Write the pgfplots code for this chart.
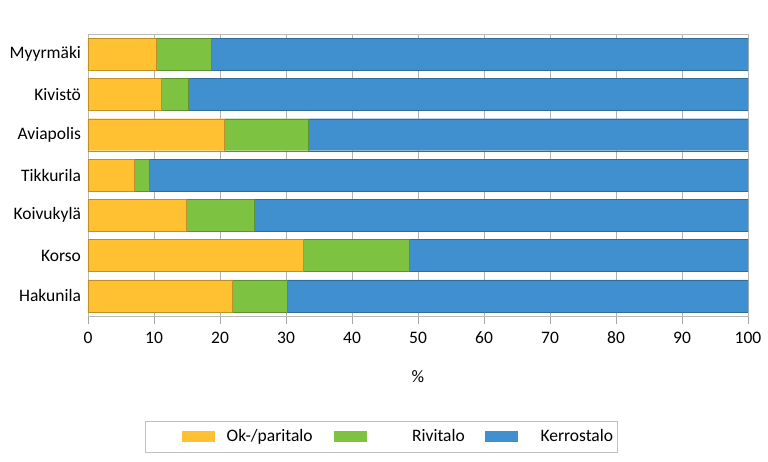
\documentclass[border=0pt]{standalone}
\usepackage{pgfplots}
\pgfplotsset{compat=1.18}
\usepackage{fontspec}
\setmainfont{Carlito}
\definecolor{cOk}{RGB}{255,192,50}
\definecolor{cRivi}{RGB}{126,194,66}
\definecolor{cKerros}{RGB}{64,144,208}
\begin{document}
\fontsize{17.5}{21}\selectfont
\begin{tikzpicture}
\begin{axis}[
  xbar stacked,
  scale only axis,
  width=660pt, height=282pt,
  xmin=0, xmax=100, ymin=-0.5, ymax=6.5,
  y dir=reverse,
  ytick={0,...,6},
  yticklabels={Myyrmäki,Kivistö,Aviapolis,Tikkurila,Koivukylä,Korso,Hakunila},
  ytick style={draw=none},
  xtick={0,10,...,100},
  xtick pos=bottom, xtick align=outside,
  major tick length=8pt,
  xtick style={gray!70, line width=0.6pt},
  xmajorgrids, grid style={gray!60, line width=0.6pt},
  axis line style={gray!55, line width=0.6pt},
  bar width=32pt,
  xlabel={\%},
  xlabel style={yshift=-15pt},
  tick label style={font=\fontsize{17.5}{21}\selectfont},
  label style={font=\fontsize{17.5}{21}\selectfont},
  /pgf/number format/assume math mode=true,
  xticklabel style={yshift=-2pt},
  yticklabel style={xshift=-1pt},
  legend style={at={(0.0864,-0.3723)}, anchor=north west, legend columns=3,
    draw=gray!50, line width=0.6pt, inner xsep=0pt, inner ysep=8pt,
    column sep=0pt,
    nodes={inner sep=0pt, font=\fontsize{17.5}{21}\selectfont}},
  legend cell align=left,
]
\addplot[fill=cOk, draw=cOk!75!black, line width=0.4pt,
  legend image code/.code={\path (-37pt,0pt); \fill[cOk] (0pt,-5pt) rectangle (32pt,5pt);}]
  coordinates {(10.4,0) (11.1,1) (20.6,2) (7.0,3) (14.9,4) (32.6,5) (21.9,6)};
\addlegendentry{\makebox[119pt][l]{\hspace{12pt}Ok-/paritalo}}
\addplot[fill=cRivi, draw=cRivi!75!black, line width=0.4pt,
  legend image code/.code={\fill[cRivi] (0pt,-5pt) rectangle (32pt,5pt);}]
  coordinates {(8.2,0) (4.1,1) (12.8,2) (2.3,3) (10.3,4) (16.0,5) (8.3,6)};
\addlegendentry{\makebox[119pt][l]{\hspace{46pt}Rivitalo}}
\addplot[fill=cKerros, draw=cKerros!75!black, line width=0.4pt,
  legend image code/.code={\fill[cKerros] (0pt,-5pt) rectangle (32pt,5pt);}]
  coordinates {(81.4,0) (84.8,1) (66.6,2) (90.7,3) (74.8,4) (51.4,5) (69.8,6)};
\addlegendentry{\makebox[100pt][l]{\hspace{23pt}Kerrostalo}}
\end{axis}
\pgfresetboundingbox
\path ([shift={(-88pt,-146pt)}]current axis.south west) rectangle ([shift={(20pt,34pt)}]current axis.north east);
\end{tikzpicture}
\end{document}
